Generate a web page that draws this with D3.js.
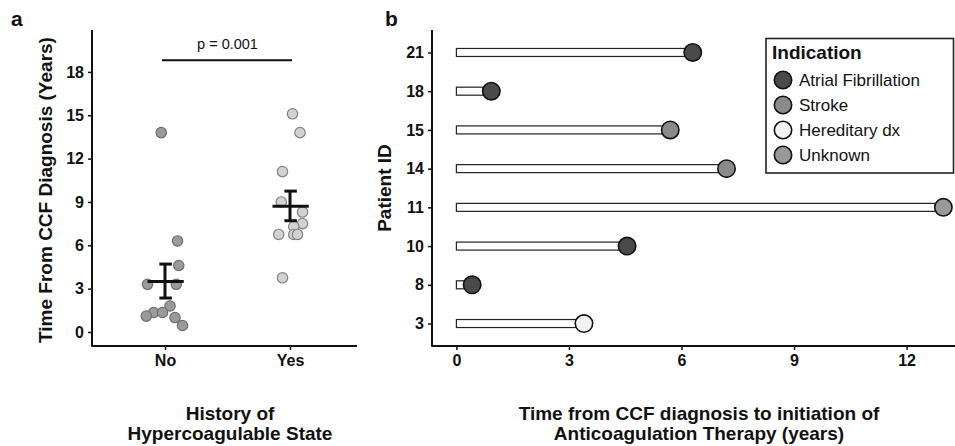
<!DOCTYPE html>
<html><head><meta charset="utf-8">
<script src="https://cdn.jsdelivr.net/npm/d3@7"></script>
<style>
body{margin:0;background:#fff;}
text{font-family:"Liberation Sans",Arial,Helvetica,sans-serif;}
</style></head>
<body><svg id="c" width="955" height="446"></svg>
<script>
// ---- Panel a data ----
const groups = ["No", "Yes"];
const noValues  = [13.8, 6.3, 4.6, 3.3, 3.3, 1.8, 1.35, 1.35, 1.1, 1.0, 0.45];
const noJitter  = [-0.03, 0.10, 0.11, -0.14, 0.09, 0.04, -0.09, -0.02, -0.15, 0.08, 0.14];
const yesValues = [15.1, 13.8, 11.1, 9.0, 8.3, 7.5, 7.3, 6.75, 6.75, 6.75, 3.75];
const yesJitter = [0.02, 0.08, -0.06, -0.07, 0.10, 0.10, 0.03, -0.09, 0.03, 0.06, -0.06];
const groupMean = [3.5, 8.7];
const groupLow  = [2.35, 7.7];
const groupHigh = [4.7, 9.75];
const yTicksA = [0, 3, 6, 9, 12, 15, 18];
const pLabel = "p = 0.001";
const pLevel = 18.8;

// ---- Panel b data ----
const patients = ["21", "18", "15", "14", "11", "10", "8", "3"];
const yearsToAC = [6.3, 0.93, 5.7, 7.2, 12.98, 4.55, 0.42, 3.4];
const indication = ["Atrial Fibrillation", "Atrial Fibrillation", "Stroke", "Stroke", "Unknown", "Atrial Fibrillation", "Atrial Fibrillation", "Hereditary dx"];
const indicationLevels = ["Atrial Fibrillation", "Stroke", "Hereditary dx", "Unknown"];
const indicationColors = ["#4a4a4a", "#8a8a8a", "#f2f2f2", "#999999"];
const xTicksB = [0, 3, 6, 9, 12];

const svg = d3.select("#c");
const ink = "#111";
const titleSize = "19px";
const tickSize = "16px";

// ================= Panel a =================
const ax = {left: 92, right: 357, top: 30, bottom: 346};
const yA = d3.scaleLinear().domain([-0.97, 20.9]).range([ax.bottom, ax.top]);
const xA = d3.scalePoint().domain(groups).range([165, 290]);
const step = xA(groups[1]) - xA(groups[0]);

const gA = svg.append("g");
const yAxisA = gA.append("g").attr("transform", `translate(${ax.left},0)`)
  .call(d3.axisLeft(yA).tickValues(yTicksA).tickSize(4).tickSizeOuter(0));
const xAxisA = gA.append("g").attr("transform", `translate(0,${ax.bottom})`)
  .call(d3.axisBottom(xA).tickSize(4).tickSizeOuter(0));
[yAxisA, xAxisA].forEach(a => {
  a.select(".domain").remove();
  a.selectAll(".tick line").attr("stroke", ink).attr("stroke-width", 1.5);
  a.selectAll(".tick text").attr("fill", ink).style("font-size", tickSize).style("font-weight", "bold");
});
yAxisA.selectAll(".tick text").attr("x", -8);
xAxisA.selectAll(".tick text").attr("y", 9);
gA.append("line").attr("x1", ax.left).attr("x2", ax.left).attr("y1", ax.top).attr("y2", ax.bottom + 0.75)
  .attr("stroke", ink).attr("stroke-width", 2);
gA.append("line").attr("x1", ax.left).attr("x2", ax.right).attr("y1", ax.bottom).attr("y2", ax.bottom)
  .attr("stroke", ink).attr("stroke-width", 2);

const ptsA = [];
noValues.forEach((v, i) => ptsA.push({g: "No", v, j: noJitter[i]}));
yesValues.forEach((v, i) => ptsA.push({g: "Yes", v, j: yesJitter[i]}));
gA.append("g").selectAll("circle").data(ptsA).join("circle")
  .attr("cx", d => xA(d.g) + d.j * step)
  .attr("cy", d => yA(d.v))
  .attr("r", 5.2)
  .attr("fill", d => d.g === "No" ? "#9a9a9a" : "#d2d2d2")
  .attr("stroke", d => d.g === "No" ? "#6e6e6e" : "#828282")
  .attr("stroke-width", 1.2);

groups.forEach((g, i) => {
  const cx = xA(g);
  const eb = gA.append("g").attr("stroke", ink).attr("stroke-width", 3);
  eb.append("line").attr("x1", cx - 0.14 * step).attr("x2", cx + 0.15 * step)
    .attr("y1", yA(groupMean[i])).attr("y2", yA(groupMean[i]));
  eb.append("line").attr("x1", cx).attr("x2", cx)
    .attr("y1", yA(groupLow[i])).attr("y2", yA(groupHigh[i]));
  [groupLow[i], groupHigh[i]].forEach(v => {
    eb.append("line").attr("x1", cx - 0.045 * step).attr("x2", cx + 0.055 * step)
      .attr("y1", yA(v)).attr("y2", yA(v));
  });
});

gA.append("line").attr("x1", xA("No") - 3).attr("x2", xA("Yes") + 2)
  .attr("y1", yA(pLevel)).attr("y2", yA(pLevel)).attr("stroke", ink).attr("stroke-width", 2);
gA.append("text").attr("x", (xA("No") + xA("Yes")) / 2).attr("y", yA(pLevel) - 11)
  .attr("text-anchor", "middle").style("font-size", "14.5px").attr("fill", ink).text(pLabel);

gA.append("text").attr("transform", `translate(52,${(ax.top + ax.bottom) / 2 + 2}) rotate(-90)`)
  .attr("text-anchor", "middle").style("font-size", titleSize).style("font-weight", "bold").attr("fill", ink)
  .text("Time From CCF Diagnosis (Years)");
const tA = gA.append("text").attr("text-anchor", "middle").style("font-size", titleSize)
  .style("font-weight", "bold").attr("fill", ink);
tA.append("tspan").attr("x", 230).attr("y", 420).text("History of");
tA.append("tspan").attr("x", 230).attr("y", 439.5).text("Hypercoagulable State");
svg.append("text").attr("x", 11).attr("y", 26).style("font-size", "21px").style("font-weight", "bold")
  .attr("fill", ink).text("a");

// ================= Panel b =================
const bx = {left: 432, right: 955, top: 30, bottom: 346};
const xB = d3.scaleLinear().domain([-0.65, 13.29]).range([bx.left, bx.right]);
const yB = d3.scalePoint().domain(patients).range([bx.top, bx.bottom]).padding(0.58);
const colorB = d3.scaleOrdinal().domain(indicationLevels).range(indicationColors);

const gB = svg.append("g");
const xAxisB = gB.append("g").attr("transform", `translate(0,${bx.bottom})`)
  .call(d3.axisBottom(xB).tickValues(xTicksB).tickSize(4).tickSizeOuter(0));
const yAxisB = gB.append("g").attr("transform", `translate(${bx.left},0)`)
  .call(d3.axisLeft(yB).tickSize(4).tickSizeOuter(0));
[xAxisB, yAxisB].forEach(a => {
  a.select(".domain").remove();
  a.selectAll(".tick line").attr("stroke", ink).attr("stroke-width", 1.5);
  a.selectAll(".tick text").attr("fill", ink).style("font-size", tickSize).style("font-weight", "bold");
});
yAxisB.selectAll(".tick text").attr("x", -8);
xAxisB.selectAll(".tick text").attr("y", 9);
gB.append("line").attr("x1", bx.left).attr("x2", bx.left).attr("y1", bx.top).attr("y2", bx.bottom + 0.75)
  .attr("stroke", ink).attr("stroke-width", 2);
gB.append("line").attr("x1", bx.left).attr("x2", bx.right).attr("y1", bx.bottom).attr("y2", bx.bottom)
  .attr("stroke", ink).attr("stroke-width", 2);

const dataB = patients.map((p, i) => ({p, v: yearsToAC[i], ind: indication[i]}));
gB.append("g").selectAll("rect").data(dataB).join("rect")
  .attr("x", xB(0)).attr("y", d => yB(d.p) - 4)
  .attr("width", d => xB(d.v) - xB(0)).attr("height", 8)
  .attr("fill", "#fff").attr("stroke", "#222").attr("stroke-width", 1.2);
gB.append("g").selectAll("circle").data(dataB).join("circle")
  .attr("cx", d => xB(d.v)).attr("cy", d => yB(d.p)).attr("r", 8.7)
  .attr("fill", d => colorB(d.ind)).attr("stroke", ink).attr("stroke-width", 1.6);

const lg = gB.append("g");
lg.append("rect").attr("x", 766).attr("y", 38.5).attr("width", 187.5).attr("height", 134.5)
  .attr("fill", "#fff").attr("stroke", "#222").attr("stroke-width", 1.6);
lg.append("text").attr("x", 772).attr("y", 59).style("font-size", "19px").style("font-weight", "bold")
  .attr("fill", ink).text("Indication");
indicationLevels.forEach((lvl, i) => {
  const cy = 80 + i * 25;
  lg.append("circle").attr("cx", 783).attr("cy", cy).attr("r", 8.7)
    .attr("fill", colorB(lvl)).attr("stroke", ink).attr("stroke-width", 1.6);
  lg.append("text").attr("x", 799).attr("y", cy + 6).style("font-size", "17px").attr("fill", ink).text(lvl);
});

gB.append("text").attr("transform", `translate(391,${(bx.top + bx.bottom) / 2}) rotate(-90)`)
  .attr("text-anchor", "middle").style("font-size", titleSize).style("font-weight", "bold").attr("fill", ink)
  .text("Patient ID");
const tB = gB.append("text").attr("text-anchor", "middle").style("font-size", titleSize)
  .style("font-weight", "bold").attr("fill", ink);
tB.append("tspan").attr("x", 699).attr("y", 420).text("Time from CCF diagnosis to initiation of");
tB.append("tspan").attr("x", 699).attr("y", 439.5).text("Anticoagulation Therapy (years)");
svg.append("text").attr("x", 385).attr("y", 26).style("font-size", "21px").style("font-weight", "bold")
  .attr("fill", ink).text("b");
</script></body></html>
